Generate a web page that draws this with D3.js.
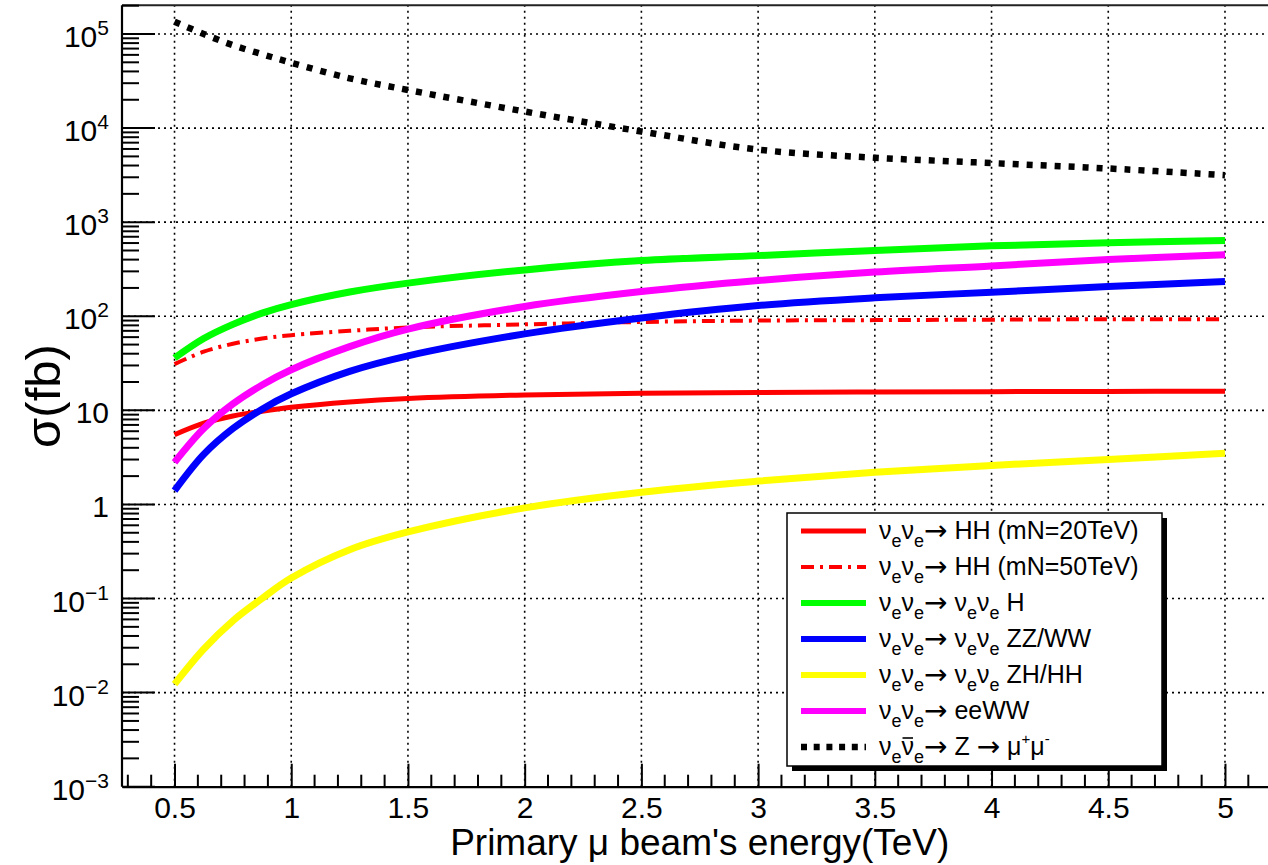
<!DOCTYPE html>
<html lang="en">
<head>
  <meta charset="UTF-8">
  <title>Cross sections vs beam energy</title>
  <style>
    body { margin: 0; background: #fff; overflow: hidden; }
    svg { display: block; font-family: "Liberation Sans", Arial, Helvetica, sans-serif; }
  </style>
</head>
<body>
  <div id="chart"></div>

  <script src="https://d3js.org/d3.v7.min.js"></script>
  <script>
    // data (sigma in fb)
    const energy = [0.5, 0.625, 0.75, 0.875, 1, 1.25, 1.5, 2, 2.5, 3, 3.5, 4, 4.5, 5];
    const hh20   = [5.5, 7.3, 8.7, 9.8, 10.8, 12.3, 13.4, 14.6, 15.2, 15.5, 15.7, 15.8, 15.9, 16.0];
    const hh50   = [31, 42, 51, 58, 63, 70, 76, 82, 87, 90, 91, 92, 93, 93];
    const vvH    = [36, 58, 82, 108, 133, 181, 225, 311, 391, 441, 500, 560, 603, 640];
    const vvZZ   = [1.4, 3.4, 6.4, 10.3, 15, 26, 38, 65, 96, 130, 157, 180, 207, 234];
    const vvZH   = [0.0123, 0.029, 0.058, 0.1, 0.165, 0.33, 0.51, 0.92, 1.35, 1.77, 2.2, 2.6, 3.0, 3.5];
    const eeWW   = [2.8, 6.4, 11.7, 18.6, 27, 47.5, 73, 127, 183, 240, 295, 343, 400, 450];
    const zmumu  = [1.35e5, 1.0e5, 7.6e4, 6.1e4, 4.95e4, 3.38e4, 2.54e4, 1.5e4, 9.2e3, 5.9e3, 4.84e3, 4.25e3, 3.72e3, 3.16e3];

    const xTicks = [0.5, 1, 1.5, 2, 2.5, 3, 3.5, 4, 4.5, 5];
    const yDecades = [-3, -2, -1, 0, 1, 2, 3, 4, 5];

    // legend text pieces: [text, kind]
    const legendLabels = [
      [["ν"], ["e", "sub"], ["ν"], ["e", "sub"], ["→", "arrow"], [" HH (mN=20TeV)"]],
      [["ν"], ["e", "sub"], ["ν"], ["e", "sub"], ["→", "arrow"], [" HH (mN=50TeV)"]],
      [["ν"], ["e", "sub"], ["ν"], ["e", "sub"], ["→", "arrow"], [" ν"], ["e", "sub"], ["ν"], ["e", "sub"], [" H"]],
      [["ν"], ["e", "sub"], ["ν"], ["e", "sub"], ["→", "arrow"], [" ν"], ["e", "sub"], ["ν"], ["e", "sub"], [" ZZ/WW"]],
      [["ν"], ["e", "sub"], ["ν"], ["e", "sub"], ["→", "arrow"], [" ν"], ["e", "sub"], ["ν"], ["e", "sub"], [" ZH/HH"]],
      [["ν"], ["e", "sub"], ["ν"], ["e", "sub"], ["→", "arrow"], [" eeWW"]],
      [["ν"], ["e", "sub"], ["ν", "bar"], ["e", "sub"], ["→", "arrow"], [" Z "], ["→", "arrow"], [" μ"], ["+", "sup"], ["μ"], ["-", "sup"]]
    ];

    const series = [
      { values: hh20,  color: "#ff0000", width: 5,   dash: null },
      { values: hh50,  color: "#ff0000", width: 4,   dash: "13,6,3,6" },
      { values: vvH,   color: "#00ff00", width: 7,   dash: null },
      { values: vvZZ,  color: "#0000ff", width: 7,   dash: null },
      { values: vvZH,  color: "#ffff00", width: 7,   dash: null },
      { values: eeWW,  color: "#ff00ff", width: 7,   dash: null },
      { values: zmumu, color: "#000000", width: 6.5, dash: "6,8" }
    ];

    const W = 1268, H = 865;
    const pLeft = 122, pTop = 5.3, pBottom = 786.7, pRight = 1277.5;

    const svg = d3.select("#chart").append("svg")
      .attr("width", W).attr("height", H);

    const x = d3.scaleLinear().domain([0.275, 5.225]).range([pLeft, pRight]);
    const y = d3.scaleLog().domain([1e-3, Math.pow(10, 5.305)]).range([pBottom, pTop]);

    // grid
    const grid = svg.append("g")
      .attr("stroke", "#000").attr("stroke-width", 1.6).attr("stroke-dasharray", "2,4");
    grid.selectAll(".vg").data(xTicks).join("line").attr("class", "vg")
      .attr("x1", d => x(d)).attr("x2", d => x(d))
      .attr("y1", pBottom).attr("y2", pTop);
    grid.selectAll(".hg").data(yDecades.slice(1)).join("line").attr("class", "hg")
      .attr("y1", d => y(Math.pow(10, d))).attr("y2", d => y(Math.pow(10, d)))
      .attr("x1", pLeft).attr("x2", pRight);

    // curves
    const line = d3.line()
      .x((d, i) => x(energy[i]))
      .y(d => y(d))
      .curve(d3.curveCatmullRom.alpha(0.5));

    svg.append("g").selectAll("path").data(series).join("path")
      .attr("fill", "none")
      .attr("stroke", d => d.color)
      .attr("stroke-width", d => d.width)
      .attr("stroke-dasharray", d => d.dash)
      .attr("d", d => line(d.values));

    // frame
    svg.append("line").attr("x1", pLeft).attr("x2", pRight).attr("y1", pTop).attr("y2", pTop)
      .attr("stroke", "#222").attr("stroke-width", 2);

    // x axis
    const xMinor = d3.range(3, 53).map(d => d / 10).filter(d => !xTicks.some(t => Math.abs(t - d) < 1e-9));
    const xAxis = d3.axisBottom(x).tickValues(xTicks).tickSizeInner(-23).tickSizeOuter(0)
      .tickPadding(0).tickFormat(d3.format("~g"));
    const gx = svg.append("g").attr("transform", `translate(0,${pBottom})`).call(xAxis)
      .attr("font-family", null).attr("font-size", null);
    gx.select(".domain").attr("stroke", "#000").attr("stroke-width", 2.2);
    gx.selectAll(".tick line").attr("stroke", "#000").attr("stroke-width", 2);
    gx.selectAll(".tick text").attr("font-size", 30).attr("fill", "#000")
      .attr("y", 31).attr("dy", 0);
    gx.selectAll(".minor").data(xMinor).join("line").attr("class", "minor")
      .attr("x1", d => x(d)).attr("x2", d => x(d)).attr("y1", 0).attr("y2", -12)
      .attr("stroke", "#000").attr("stroke-width", 2);

    // y axis
    const yMinor = [];
    yDecades.forEach(e => {
      for (let k = 2; k <= 9; k++) yMinor.push(k * Math.pow(10, e));
    });
    const gy = svg.append("g").attr("transform", `translate(${pLeft},0)`);
    gy.append("line").attr("x1", 0).attr("x2", 0).attr("y1", pTop).attr("y2", pBottom)
      .attr("stroke", "#000").attr("stroke-width", 2.2);
    gy.selectAll(".major").data(yDecades).join("line").attr("class", "major")
      .attr("x1", 0).attr("x2", 33)
      .attr("y1", d => y(Math.pow(10, d))).attr("y2", d => y(Math.pow(10, d)))
      .attr("stroke", "#000").attr("stroke-width", 2);
    gy.selectAll(".minor").data(yMinor.filter(v => y(v) > pTop)).join("line").attr("class", "minor")
      .attr("x1", 0).attr("x2", 17)
      .attr("y1", d => y(d)).attr("y2", d => y(d))
      .attr("stroke", "#000").attr("stroke-width", 2);

    const ylab = gy.selectAll(".ylab").data(yDecades).join("text").attr("class", "ylab")
      .attr("x", -13).attr("y", d => y(Math.pow(10, d)) + 13)
      .attr("text-anchor", "end").attr("font-size", 30).attr("fill", "#000");
    ylab.each(function (d) {
      const t = d3.select(this);
      if (d === 0) { t.text("1"); return; }
      if (d === 1) { t.text("10"); return; }
      t.append("tspan").text("10");
      t.append("tspan").attr("font-size", 21).attr("dy", -12)
        .text(d < 0 ? "\u2212" + Math.abs(d) : String(d));
    });

    // axis titles
    svg.append("text")
      .attr("x", (pLeft + pRight) / 2).attr("y", 855)
      .attr("text-anchor", "middle").attr("font-size", 37).attr("fill", "#000")
      .text("Primary μ beam's energy(TeV)");

    svg.append("text")
      .attr("transform", `translate(60,396) rotate(-90)`)
      .attr("text-anchor", "middle").attr("font-size", 49).attr("fill", "#000")
      .text("σ(fb)");

    // legend
    const lg = { x: 787, y: 513, w: 375, h: 253, row: 36 };
    const legend = svg.append("g");
    legend.append("rect").attr("x", lg.x + 5).attr("y", lg.y + 5)
      .attr("width", lg.w).attr("height", lg.h).attr("fill", "#000");
    legend.append("rect").attr("x", lg.x).attr("y", lg.y)
      .attr("width", lg.w).attr("height", lg.h)
      .attr("fill", "#fff").attr("stroke", "#000").attr("stroke-width", 1.5);

    const rows = legend.selectAll(".row").data(series).join("g").attr("class", "row")
      .attr("transform", (d, i) => `translate(${lg.x},${lg.y + 18 + i * lg.row})`);
    rows.append("line")
      .attr("x1", 14).attr("x2", 79).attr("y1", 0).attr("y2", 0)
      .attr("stroke", d => d.color)
      .attr("stroke-width", d => d.width === 7 ? 6 : d.width)
      .attr("stroke-dasharray", (d, i) => i === 6 ? "6,6.7" : d.dash);
    rows.append("text")
      .attr("x", 92).attr("y", 8).attr("font-size", 25).attr("fill", "#000")
      .each(function (d, i) {
        const t = d3.select(this);
        const g = d3.select(this.parentNode);
        let shift = 0;   // current baseline offset, undone on the next piece
        let pos = 0;     // character index inside the text element
        legendLabels[i].forEach(([s, kind]) => {
          const target = kind === "sub" ? 8 : kind === "sup" ? -11 : kind === "arrow" ? 1 : 0;
          const sp = t.append("tspan").attr("dy", target - shift).text(s);
          shift = target;
          if (kind === "sub") sp.attr("font-size", 18);
          else if (kind === "sup") sp.attr("font-size", 15);
          else if (kind === "arrow") sp.attr("font-family", "DejaVu Sans").attr("font-size", 28);
          else if (kind === "bar") {
            const a = this.getStartPositionOfChar(pos).x;
            const b = this.getEndPositionOfChar(pos).x;
            g.append("line").attr("x1", a + 1).attr("x2", b - 1)
              .attr("y1", 8 - 17).attr("y2", 8 - 17)
              .attr("stroke", "#000").attr("stroke-width", 1.6);
          }
          pos += s.length;
        });
      });
  </script>
</body>
</html>
